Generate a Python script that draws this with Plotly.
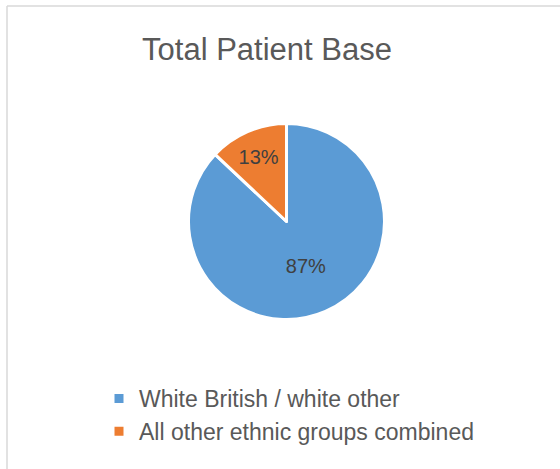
import plotly.graph_objects as go

labels = ["White British / white other", "All other ethnic groups combined"]
values = [87, 13]
colors = ["#5B9BD5", "#ED7D31"]
title_text = "Total Patient Base"

W, H = 560, 469
cx, cy, r = 286.5, 221.5, 98

fig = go.Figure(go.Pie(
    labels=labels,
    values=values,
    sort=False,
    direction="clockwise",
    rotation=0,
    marker=dict(colors=colors, line=dict(color="white", width=3)),
    textinfo="percent",
    texttemplate="%{percent:.0%}",
    textposition="inside",
    insidetextorientation="horizontal",
    textfont=dict(family="Liberation Sans, Arial, sans-serif", size=20, color="#404040"),
    domain=dict(x=[(cx - r) / W, (cx + r) / W], y=[1 - (cy + r) / H, 1 - (cy - r) / H]),
    hoverinfo="skip",
))

fig.update_layout(
    width=W, height=H,
    margin=dict(l=0, r=0, t=0, b=0),
    paper_bgcolor="white",
    plot_bgcolor="white",
    title=dict(text=title_text, x=267 / W, xanchor="center", y=1 - 49 / H, yanchor="middle",
               yref="container", xref="container",
               font=dict(family="Liberation Sans, Arial, sans-serif", size=31, color="#595959")),
    legend=dict(orientation="v", x=(139 - 40) / W, xanchor="left", y=1 - 377 / H, yanchor="top",
                font=dict(family="Liberation Sans, Arial, sans-serif", size=23, color="#595959"),
                bgcolor="rgba(0,0,0,0)", tracegroupgap=0),
    shapes=[
        dict(type="line", xref="paper", yref="paper", x0=7 / W, x1=1.0, y0=1 - 6 / H, y1=1 - 6 / H,
             line=dict(color="#D9D9D9", width=1.5)),
        dict(type="line", xref="paper", yref="paper", x0=7 / W, x1=7 / W, y0=1 - 6 / H, y1=0.0,
             line=dict(color="#D9D9D9", width=1.5)),
    ],
)

fig.write_html(
    "out.html",
    config={"displayModeBar": False},
    post_script="document.body.style.margin='0';document.body.style.overflow='hidden';"
                "document.documentElement.style.overflow='hidden';",
)
